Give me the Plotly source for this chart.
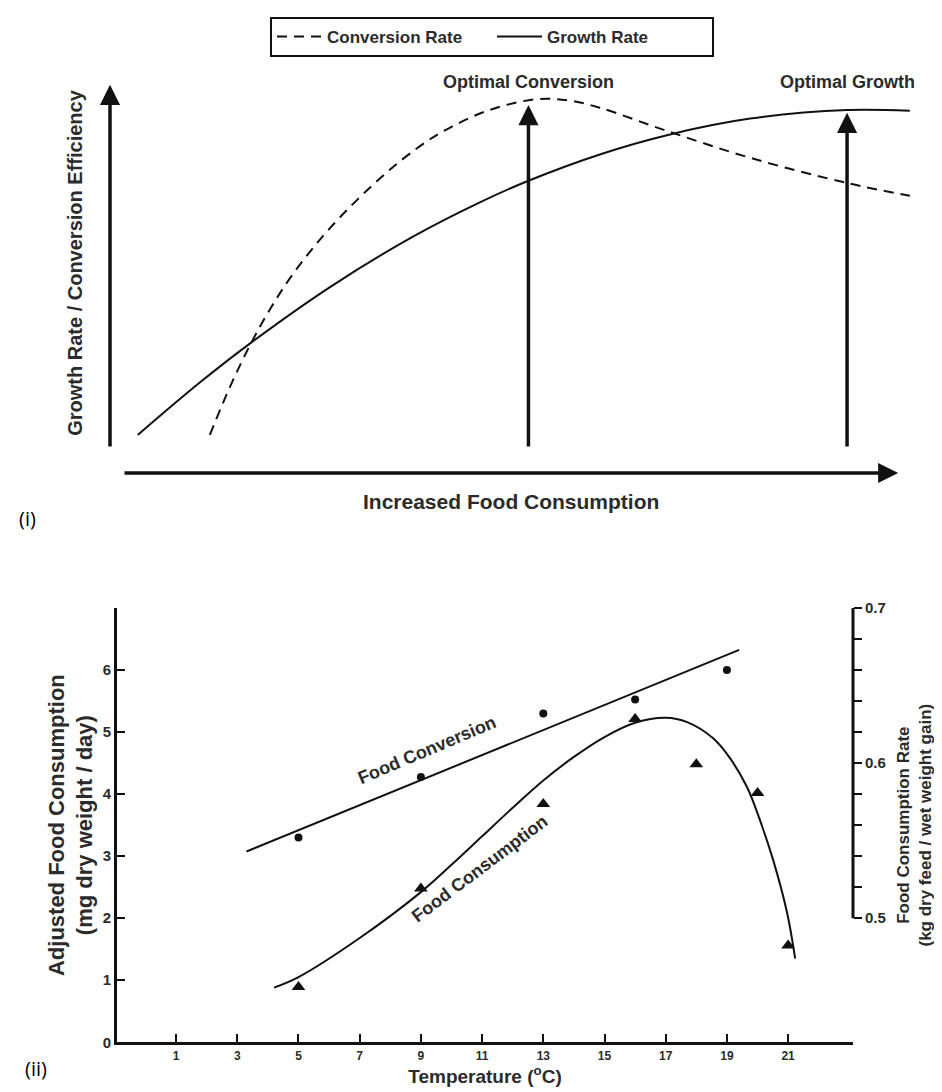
import plotly.graph_objects as go

# ---------------- data: panel (i) schematic ----------------
food_growth = [1.9, 9.9, 16.4, 26.7, 37.4, 46.1, 52.3, 61.7, 70.3, 80.9, 93.4, 101.5]
growth_rate = [9.8, 23.3, 33.4, 47.9, 60.9, 69.8, 75.3, 82.2, 87.1, 91.3, 93.5, 93.3]
food_conv = [11.2, 13.8, 16.4, 19.0, 21.9, 26.7, 33.2, 38.3, 42.2, 47.4, 53.4, 57.7, 61.5, 70.2, 80.9, 93.4, 101.5]
conversion_rate = [9.8, 22.2, 33.0, 42.3, 51.2, 63.1, 76.0, 84.2, 89.0, 93.6, 96.3, 95.9, 94.1, 88.1, 81.2, 74.7, 71.4]
optimal_labels = ["Optimal Conversion", "Optimal Growth"]
optimal_x = [52.3, 93.4]
optimal_top = [94.8, 92.8]

# ---------------- data: panel (ii) ----------------
temp_conv_pts = [5, 9, 13, 16, 19]
conv_pts = [0.552, 0.591, 0.632, 0.641, 0.660]
temp_conv_fit = [3.3, 19.4]
conv_fit = [0.543, 0.673]
temp_cons_pts = [5, 9, 13, 16, 18, 20, 21]
cons_pts = [0.89, 2.48, 3.84, 5.21, 4.48, 4.02, 1.56]
temp_cons_fit = [4.2, 5, 7, 9, 10, 11, 12, 13, 14, 15, 16, 17, 17.7, 18.55, 19.1, 19.66, 20.08, 20.51, 20.97, 21.23]
cons_fit = [0.88, 1.05, 1.68, 2.42, 2.86, 3.32, 3.78, 4.22, 4.6, 4.92, 5.15, 5.23, 5.16, 4.90, 4.58, 4.11, 3.58, 2.94, 2.08, 1.35]
temp_ticks = [1, 3, 5, 7, 9, 11, 13, 15, 17, 19, 21]
left_ticks = [0, 1, 2, 3, 4, 5, 6]
right_ticks = [0.5, 0.6, 0.7]
right_minor = [0.52, 0.54, 0.56, 0.58, 0.62, 0.64, 0.66, 0.68]

W, H = 942, 1092
INK = "#111111"
TXT = "#2b2b2b"
FONT = "Liberation Sans, Arial, sans-serif"


def px(x):
    """reference x position (pixels) -> paper fraction"""
    return (x - 8) / W


def py(y):
    """reference y position (pixels) -> paper fraction"""
    return 1 - (20 + (y - 37) * 1.0164) / H


fig = go.Figure()

fig.add_trace(go.Scatter(x=food_conv, y=conversion_rate, mode="lines", name="Conversion Rate",
                         line=dict(color=INK, width=2, dash="10px,7px", shape="spline"),
                         xaxis="x", yaxis="y"))
fig.add_trace(go.Scatter(x=food_growth, y=growth_rate, mode="lines", name="Growth Rate",
                         line=dict(color=INK, width=2, shape="spline"),
                         xaxis="x", yaxis="y"))

fig.add_trace(go.Scatter(x=temp_conv_fit, y=conv_fit, mode="lines", showlegend=False,
                         line=dict(color=INK, width=2), xaxis="x2", yaxis="y3"))
fig.add_trace(go.Scatter(x=temp_conv_pts, y=conv_pts, mode="markers", showlegend=False,
                         marker=dict(symbol="circle", size=8, color=INK), xaxis="x2", yaxis="y3"))
fig.add_trace(go.Scatter(x=temp_cons_fit, y=cons_fit, mode="lines", showlegend=False,
                         line=dict(color=INK, width=2, shape="spline"), xaxis="x2", yaxis="y2"))
fig.add_trace(go.Scatter(x=temp_cons_pts, y=cons_pts, mode="markers", showlegend=False,
                         marker=dict(symbol="triangle-up", size=12, color=INK), xaxis="x2", yaxis="y2"))


def txt(size, bold=True, family=FONT, color=TXT):
    d = dict(family=family, size=size, color=color)
    if bold:
        d["weight"] = "bold"
    return d


annotations = []
arrow_style = dict(showarrow=True, arrowhead=2, arrowwidth=3.5, arrowsize=1.15, arrowcolor=INK, text="",
                   xref="x", yref="y", axref="x", ayref="y")
annotations.append(dict(x=-1.68, y=100.0, ax=-1.68, ay=6.4, **arrow_style))
annotations.append(dict(x=100.0, y=0, ax=0, ay=0, **arrow_style))
for lab, xv, top in zip(optimal_labels, optimal_x, optimal_top):
    annotations.append(dict(x=xv, y=top, ax=xv, ay=6.4, **arrow_style))
    annotations.append(dict(x=xv, y=100.8, xref="x", yref="y", text=lab, showarrow=False,
                            xanchor="center", yanchor="middle", font=txt(18)))
annotations.append(dict(x=px(75), y=py(263), xref="paper", yref="paper", showarrow=False, textangle=-90,
                        xanchor="center", yanchor="middle",
                        text="Growth Rate / Conversion Efficiency", font=txt(20)))
annotations.append(dict(x=px(511), y=py(502), xref="paper", yref="paper", showarrow=False,
                        xanchor="center", yanchor="middle",
                        text="Increased Food Consumption", font=txt(21)))
annotations.append(dict(x=px(27), y=py(519), xref="paper", yref="paper", showarrow=False, text="(i)",
                        xanchor="center", yanchor="middle",
                        font=txt(20, bold=False, family="Open Sans, sans-serif", color="#000")))
annotations.append(dict(x=px(36), y=py(1068), xref="paper", yref="paper", showarrow=False, text="(ii)",
                        xanchor="center", yanchor="middle",
                        font=txt(20, bold=False, family="Open Sans, sans-serif", color="#000")))
annotations.append(dict(x=9.2, y=4.71, xref="x2", yref="y2", showarrow=False, text="Food Conversion",
                        xanchor="center", yanchor="middle", textangle=-23, font=txt(18)))
annotations.append(dict(x=10.9, y=2.8, xref="x2", yref="y2", showarrow=False, text="Food Consumption",
                        xanchor="center", yanchor="middle", textangle=-37, font=txt(18)))

shapes = [
    dict(type="line", xref="paper", yref="y3", x0=px(853), x1=px(853), y0=0.5, y1=0.7,
         line=dict(color=INK, width=3)),
]

tickfont = txt(15)

fig.update_layout(
    width=W, height=H, autosize=False,
    margin=dict(l=0, r=0, t=0, b=0),
    paper_bgcolor="white", plot_bgcolor="white",
    showlegend=True,
    legend=dict(orientation="h", x=px(492), xanchor="center", y=1, yanchor="top",
                bordercolor=INK, borderwidth=2, bgcolor="white",
                font=txt(17), entrywidth=160, entrywidthmode="pixels", itemwidth=45),
    xaxis=dict(domain=[px(100), px(930)], range=[-2.97, 104.1], visible=False, anchor="y"),
    yaxis=dict(domain=[py(480), py(70)], range=[-1.8, 103.9], visible=False, anchor="x"),
    xaxis2=dict(domain=[px(117), px(853)], range=[-0.93, 23.12], anchor="y2",
                tickmode="array", tickvals=temp_ticks, ticks="inside", ticklen=8, tickwidth=2,
                tickcolor=INK, showline=True, linewidth=3, linecolor=INK, showgrid=False, zeroline=False,
                tickfont=txt(12),
                title=dict(text="Temperature (<sup>o</sup>C)", standoff=8, font=txt(19))),
    yaxis2=dict(domain=[py(1042), py(608)], range=[0, 7], anchor="x2",
                tickmode="array", tickvals=left_ticks, ticks="inside", ticklen=8, tickwidth=2,
                tickcolor=INK, showline=True, linewidth=3, linecolor=INK, showgrid=False, zeroline=False,
                tickfont=tickfont,
                title=dict(text="Adjusted Food Consumption<br>(mg dry weight / day)", standoff=4,
                           font=txt(22))),
    yaxis3=dict(overlaying="y2", side="right", anchor="x2", range=[0.42, 0.70],
                tickmode="array", tickvals=right_ticks, ticks="outside", ticklen=8, tickwidth=2,
                tickcolor=INK, showline=False, showgrid=False, zeroline=False,
                minor=dict(tickmode="array", tickvals=right_minor, ticks="outside", ticklen=8,
                           tickwidth=2, tickcolor=INK, showgrid=False),
                tickformat=".1f", tickfont=tickfont,
                title=dict(text="Food Consumption Rate<br>(kg dry feed / wet weight gain)", standoff=12,
                           font=txt(17))),
    annotations=annotations,
    shapes=shapes,
)

fig.write_html("out.html")
